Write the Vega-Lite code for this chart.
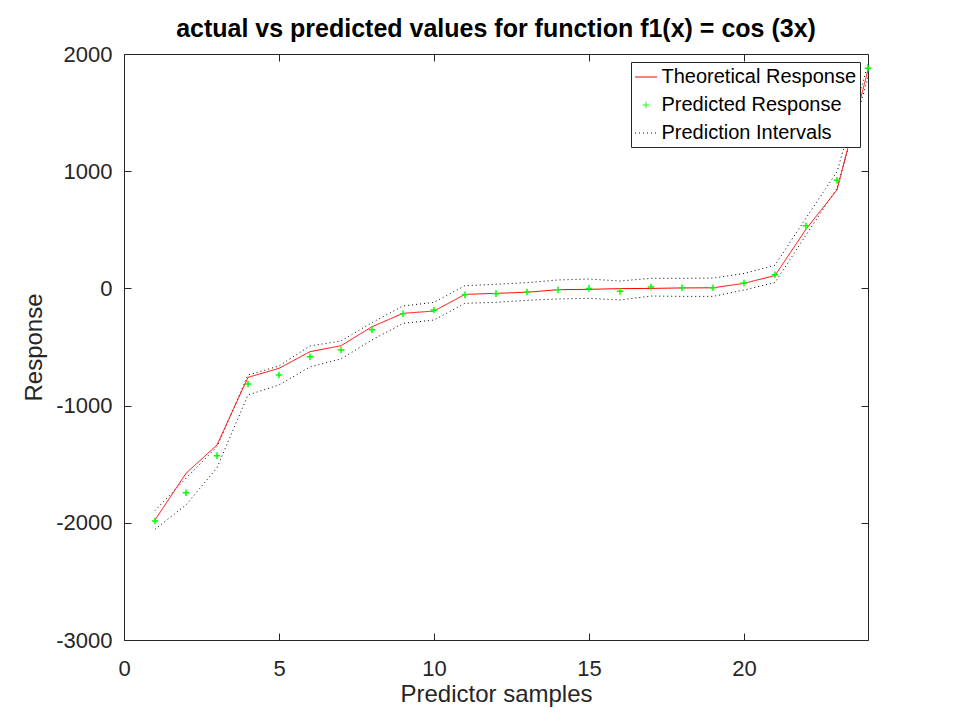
{
  "$schema": "https://vega.github.io/schema/vega-lite/v6.json",
  "width": 744,
  "height": 586,
  "autosize": {"type": "none"},
  "padding": {"left": 124, "top": 54, "right": 92, "bottom": 80},
  "background": "white",
  "title": {
    "text": "actual vs predicted values for function f1(x) = cos (3x)",
    "fontSize": 25,
    "fontWeight": "bold",
    "font": "Liberation Sans",
    "color": "#000000",
    "offset": 1,
    "anchor": "middle"
  },
  "config": {
    "font": "Liberation Sans",
    "view": {"stroke": "#262626", "strokeWidth": 1},
    "axis": {
      "grid": false,
      "domain": false,
      "tickColor": "#262626",
      "tickSize": -7,
      "tickWidth": 1,
      "labelFont": "Liberation Sans",
      "labelFontSize": 22,
      "labelColor": "#262626",
      "labelFlush": false,
      "titleFont": "Liberation Sans",
      "titleFontSize": 24,
      "titleFontWeight": "normal",
      "titleColor": "#262626"
    },
    "legend": {
      "orient": "top-right",
      "offset": 8,
      "strokeColor": "#262626",
      "fillColor": "white",
      "padding": 3.5,
      "rowPadding": 6,
      "labelFont": "Liberation Sans",
      "labelFontSize": 20,
      "labelColor": "#000000",
      "labelOffset": 4,
      "labelLimit": 0,
      "symbolSize": 484,
      "symbolStrokeWidth": 1,
      "title": null
    }
  },
  "data": {
    "values": [
      {"x": 1, "theo": -1976, "pred": -1985, "upper": -1895, "lower": -2055},
      {"x": 2, "theo": -1578, "pred": -1743, "upper": -1620, "lower": -1848},
      {"x": 3, "theo": -1336, "pred": -1427, "upper": -1350, "lower": -1530},
      {"x": 4, "theo": -759, "pred": -816, "upper": -739, "lower": -909},
      {"x": 5, "theo": -682, "pred": -739, "upper": -662, "lower": -824},
      {"x": 6, "theo": -540, "pred": -584, "upper": -491, "lower": -670},
      {"x": 7, "theo": -489, "pred": -526, "upper": -449, "lower": -602},
      {"x": 8, "theo": -327, "pred": -352, "upper": -292, "lower": -440},
      {"x": 9, "theo": -213, "pred": -216, "upper": -150, "lower": -298},
      {"x": 10, "theo": -193, "pred": -184, "upper": -119, "lower": -270},
      {"x": 11, "theo": -51, "pred": -55, "upper": 23, "lower": -127},
      {"x": 12, "theo": -42, "pred": -45, "upper": 35, "lower": -119},
      {"x": 13, "theo": -33, "pred": -31, "upper": 49, "lower": -102},
      {"x": 14, "theo": -11, "pred": -11, "upper": 72, "lower": -90},
      {"x": 15, "theo": -8, "pred": 0, "upper": 80, "lower": -85},
      {"x": 16, "theo": -2, "pred": -25, "upper": 63, "lower": -99},
      {"x": 17, "theo": 0, "pred": 12, "upper": 86, "lower": -65},
      {"x": 18, "theo": 4, "pred": 6, "upper": 86, "lower": -68},
      {"x": 19, "theo": 5, "pred": 6, "upper": 88, "lower": -68},
      {"x": 20, "theo": 43, "pred": 46, "upper": 127, "lower": -14},
      {"x": 21, "theo": 110, "pred": 116, "upper": 198, "lower": 50},
      {"x": 22, "theo": 505, "pred": 535, "upper": 600, "lower": 455},
      {"x": 23, "theo": 840, "pred": 922, "upper": 996, "lower": 854},
      {"x": 24, "theo": 1864, "pred": 1878, "upper": 1910, "lower": 1800}
    ]
  },
  "resolve": {"axis": {"x": "independent", "y": "independent"}},
  "layer": [
    {
      "mark": {"type": "line", "strokeWidth": 1},
      "transform": [{"fold": ["upper", "lower"], "as": ["bound", "val"]}],
      "encoding": {
        "x": {
          "field": "x", "type": "quantitative",
          "scale": {"domain": [0, 24], "nice": false, "zero": false},
          "axis": {
            "orient": "bottom",
            "values": [0, 5, 10, 15, 20],
            "title": "Predictor samples",
            "labelPadding": 25,
            "titleX": 372,
            "titleY": 54,
            "titleBaseline": "middle",
            "labelExpr": "datum.value + ''"
          }
        },
        "y": {
          "field": "val", "type": "quantitative",
          "scale": {"domain": [-3000, 2000], "nice": false, "zero": false},
          "axis": {
            "orient": "left",
            "values": [-3000, -2000, -1000, 0, 1000, 2000],
            "title": "Response",
            "labelPadding": 19,
            "titleX": -90,
            "titleY": 293,
            "titleAngle": -90,
            "titleBaseline": "middle",
            "titleAlign": "center",
            "labelExpr": "datum.value + ''"
          }
        },
        "detail": {"field": "bound"},
        "color": {
          "datum": "Prediction Intervals",
          "scale": {
            "domain": ["Theoretical Response", "Predicted Response", "Prediction Intervals"],
            "range": ["#ff0000", "#00ff00", "#000000"]
          }
        },
        "strokeDash": {
          "datum": "Prediction Intervals",
          "scale": {
            "domain": ["Theoretical Response", "Predicted Response", "Prediction Intervals"],
            "range": [[1, 0], [1, 0], [1, 3]]
          }
        }
      }
    },
    {
      "mark": {"type": "line", "strokeWidth": 1},
      "encoding": {
        "x": {
          "field": "x", "type": "quantitative",
          "axis": {
            "orient": "top",
            "values": [0, 5, 10, 15, 20],
            "labels": false,
            "title": null
          }
        },
        "y": {
          "field": "theo", "type": "quantitative",
          "axis": {
            "orient": "right",
            "values": [-3000, -2000, -1000, 0, 1000, 2000],
            "labels": false,
            "title": null
          }
        },
        "color": {"datum": "Theoretical Response"},
        "strokeDash": {"datum": "Theoretical Response"}
      }
    },
    {
      "mark": {"type": "point", "filled": false, "size": 484, "strokeWidth": 1.5, "opacity": 1},
      "encoding": {
        "x": {"field": "x", "type": "quantitative", "axis": null},
        "y": {"field": "pred", "type": "quantitative", "axis": null},
        "color": {"datum": "Predicted Response"},
        "shape": {
          "datum": "Predicted Response",
          "scale": {
            "domain": ["Theoretical Response", "Predicted Response", "Prediction Intervals"],
            "range": ["stroke", "M-0.3,0H0.3M0,-0.3V0.3", "stroke"]
          }
        }
      }
    }
  ]
}
